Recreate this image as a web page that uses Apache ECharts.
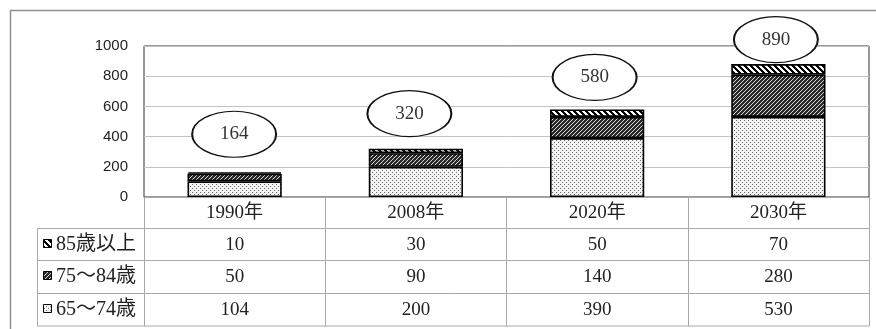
<!DOCTYPE html>
<html>
<head>
<meta charset="utf-8">
<script src="https://cdn.jsdelivr.net/npm/echarts@6/dist/echarts.min.js"></script>
<style>
  html, body { margin: 0; padding: 0; background: #fff; }
  #chart { width: 876px; height: 329px; }
</style>
</head>
<body>
<div id="chart"></div>
<script>
// Elderly population by age band (stacked), with a data table under the axis
const categories = ['1990年', '2008年', '2020年', '2030年'];
const age65to74 = [104, 200, 390, 530];
const age75to84 = [50, 90, 140, 280];
const age85plus = [10, 30, 50, 70];
const totalCallouts = [164, 320, 580, 890];
const seriesNames = ['85歳以上', '75～84歳', '65～74歳'];
const yMin = 0, yMax = 1000, yStep = 200;

// Callout placement relative to the callout value (pixels)
const calloutOffsets = [[-0.5, -38], [-6.5, -35], [-2.5, -32], [-2.5, -23]];

const serifFont = "'Liberation Serif', 'Noto Sans CJK JP', serif";
const sansFont = "'Liberation Sans', Arial, sans-serif";

function makePattern(size, paint) {
  const c = document.createElement('canvas');
  c.width = c.height = size;
  const ctx = c.getContext('2d');
  paint(ctx, size);
  return { image: c, repeat: 'repeat' };
}

// fine stipple
const dotFill = makePattern(4, (ctx) => {
  ctx.fillStyle = '#f3f3f3';
  ctx.fillRect(0, 0, 4, 4);
  ctx.fillStyle = '#6a6a6a';
  ctx.fillRect(0, 0, 1, 1);
  ctx.fillRect(2, 2, 1, 1);
});
// dense "/" hatch
const denseHatch = makePattern(4, (ctx) => {
  ctx.fillStyle = '#2a2a2a';
  ctx.fillRect(0, 0, 4, 4);
  ctx.fillStyle = '#d8d8d8';
  for (let x = 0; x < 4; x++) for (let y = 0; y < 4; y++) {
    if ((x + y) % 4 === 3) ctx.fillRect(x, y, 1, 1);
  }
});
// wide "\" stripes
const wideStripe = makePattern(6, (ctx) => {
  ctx.fillStyle = '#ffffff';
  ctx.fillRect(0, 0, 6, 6);
  ctx.fillStyle = '#000000';
  for (let x = 0; x < 6; x++) for (let y = 0; y < 6; y++) {
    if (((x - y) % 6 + 6) % 6 < 3) ctx.fillRect(x, y, 1, 1);
  }
});

const fills = [wideStripe, denseHatch, dotFill];   // same order as seriesNames
const rowValues = [age85plus, age75to84, age65to74];

// Table geometry
const tableLeft = 37.5, tableRight = 869, axisY = 197;
const rowLines = [228.5, 260.5, 293.5, 326];

const chart = echarts.init(document.getElementById('chart'), null, { renderer: 'canvas' });

const graphic = [];
// outer frame
graphic.push({
  type: 'rect', shape: { x: 10.5, y: 10.5, width: 900, height: 400 },
  style: { fill: 'none', stroke: '#8f8f8f', lineWidth: 1.5 }, silent: true, z: 0
});
// horizontal table rules
rowLines.forEach(y => graphic.push({
  type: 'line', shape: { x1: tableLeft, y1: y, x2: tableRight, y2: y },
  style: { stroke: '#a8a8a8', lineWidth: 1 }, silent: true, z: 5
}));
// left border of the row-header column
graphic.push({
  type: 'line', shape: { x1: tableLeft, y1: rowLines[0], x2: tableLeft, y2: rowLines[3] },
  style: { stroke: '#a8a8a8', lineWidth: 1 }, silent: true, z: 5
});
// row headers with pattern keys
seriesNames.forEach((name, r) => {
  const cy = (rowLines[r] + rowLines[r + 1]) / 2;
  graphic.push({
    type: 'rect', shape: { x: 43.5, y: Math.round(cy - 6) + 0.5, width: 8, height: 8 },
    style: { fill: fills[r], stroke: '#000', lineWidth: 1 }, silent: true, z: 6
  });
  graphic.push({
    type: 'text', x: 56, y: cy,
    style: { text: name, font: '20px ' + serifFont, fill: '#222', verticalAlign: 'middle', align: 'left' },
    silent: true, z: 6
  });
});

// Axis label = category header + the three table values below it
function tableColumn(value, index) {
  let s = '{h|' + value + '}';
  rowValues.forEach(arr => { s += '\n{v|' + arr[index] + '}'; });
  return s;
}

const barStyle = (fill) => ({ color: fill, borderColor: '#000', borderWidth: 1.6 });

chart.setOption({
  animation: false,
  backgroundColor: '#fff',
  grid: {
    left: 144, right: 7, top: 46, bottom: 329 - axisY,
    show: true, borderColor: '#333', borderWidth: 1, backgroundColor: 'transparent'
  },
  xAxis: {
    type: 'category',
    data: categories,
    boundaryGap: true,
    axisLine: { show: true, lineStyle: { color: '#a8a8a8', width: 1 } },
    axisTick: { show: true, interval: 0, length: 129, lineStyle: { color: '#a8a8a8', width: 1 } },
    axisLabel: {
      interval: 0, margin: 0,
      formatter: tableColumn,
      rich: {
        h: { fontFamily: serifFont, fontSize: 19, lineHeight: 31.5, color: '#222' },
        v: { fontFamily: serifFont, fontSize: 19, lineHeight: 32.5, color: '#222' }
      }
    },
    splitLine: { show: false }
  },
  yAxis: {
    type: 'value',
    min: yMin, max: yMax, interval: yStep,
    axisLine: { show: false },
    axisTick: { show: false },
    axisLabel: { fontFamily: sansFont, fontSize: 15, color: '#222', margin: 16, formatter: v => String(v) },
    splitLine: { show: true, lineStyle: { color: '#c3c3c3', width: 1 } }
  },
  series: [
    { name: seriesNames[2], type: 'bar', stack: 'total', barWidth: '52%', data: age65to74, itemStyle: barStyle(dotFill), z: 3 },
    { name: seriesNames[1], type: 'bar', stack: 'total', barWidth: '52%', data: age75to84, itemStyle: barStyle(denseHatch), z: 3 },
    { name: seriesNames[0], type: 'bar', stack: 'total', barWidth: '52%', data: age85plus, itemStyle: barStyle(wideStripe), z: 3 },
    {
      name: 'total', type: 'scatter', clip: false, z: 10,
      symbol: 'circle', symbolSize: [84, 46],
      itemStyle: { color: '#fff', borderColor: '#111', borderWidth: 1.5, opacity: 1 },
      label: {
        show: true, position: 'inside',
        formatter: p => String(p.value[1]),
        fontFamily: serifFont, fontSize: 19, color: '#333'
      },
      emphasis: { disabled: true },
      data: categories.map((c, i) => ({ value: [c, totalCallouts[i]], symbolOffset: calloutOffsets[i] }))
    }
  ],
  graphic: graphic
});
</script>
</body>
</html>
